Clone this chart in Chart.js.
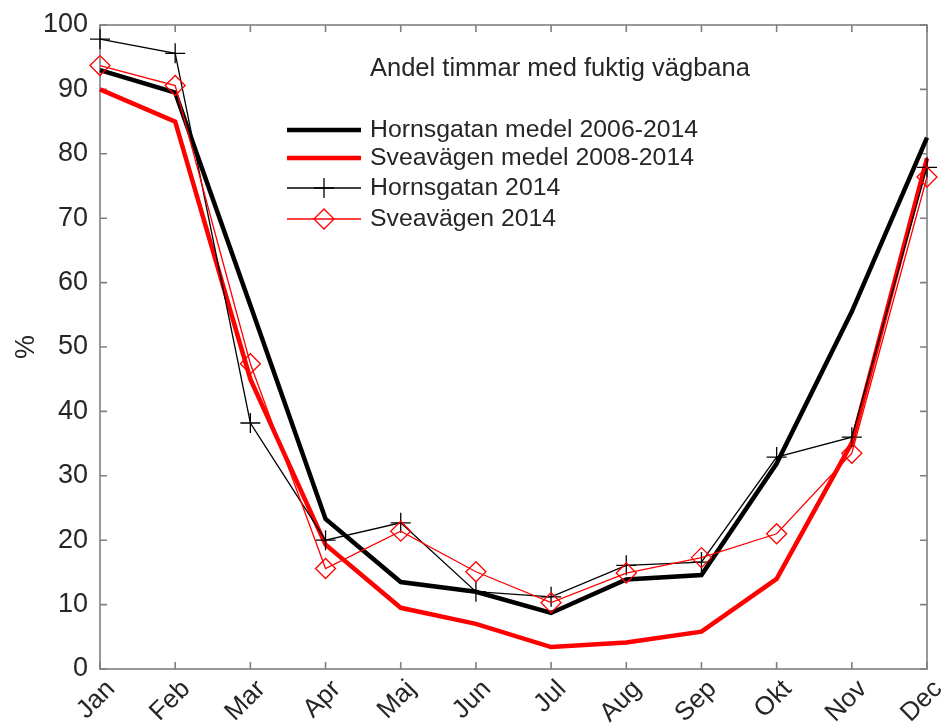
<!DOCTYPE html>
<html>
<head>
<meta charset="utf-8">
<script src="https://cdn.jsdelivr.net/npm/chart.js@4.4.1/dist/chart.umd.min.js"></script>
<style>
  body { margin: 0; background: #fff; }
  #wrap { width: 944px; height: 724px; }
</style>
</head>
<body>
<div id="wrap"><canvas id="fuktChart" width="944" height="724"></canvas></div>
<script>
// --- data ---
const months = ['Jan', 'Feb', 'Mar', 'Apr', 'Maj', 'Jun', 'Jul', 'Aug', 'Sep', 'Okt', 'Nov', 'Dec'];
const yTicks = [0, 10, 20, 30, 40, 50, 60, 70, 80, 90, 100];

const hornsMedel = [93, 89.5, 56.5, 23.3, 13.5, 12, 8.7, 13.9, 14.6, 31.9, 55.5, 82.5];
const sveaMedel = [90, 85, 45, 19.3, 9.5, 7, 3.4, 4.1, 5.8, 14, 35.1, 79.3];
const horns2014 = [97.8, 95.6, 38.2, 20, 22.7, 12, 11.2, 16.1, 16.6, 32.9, 36, 77.9];
const svea2014 = [93.7, 90.6, 47.4, 15.6, 21.4, 15.1, 10.3, 14.9, 17.3, 21, 33.5, 76.4];

const seriesNames = [
    'Hornsgatan medel 2006-2014',
    'Sveavägen medel 2008-2014',
    'Hornsgatan 2014',
    'Sveavägen 2014'
];
const noteText = 'Andel timmar med fuktig vägbana';

const FONT = '"Liberation Sans", Arial, Helvetica, sans-serif';
const TEXT_COLOR = '#262626';
const AXIS_COLOR = '#808080';

// ram, inåtvända tickar, lutade månadsetiketter, legend och rubrik
const framePlugin = {
    id: 'frame',
    beforeDatasetsDraw(chart) {
        const { ctx, chartArea: a, scales } = chart;
        ctx.save();
        ctx.strokeStyle = AXIS_COLOR;
        ctx.lineWidth = 1.6;
        ctx.strokeRect(a.left, a.top, a.right - a.left, a.bottom - a.top);
        const tl = 7;
        ctx.beginPath();
        scales.y.ticks.forEach(t => {
            const y = scales.y.getPixelForValue(t.value);
            ctx.moveTo(a.left, y); ctx.lineTo(a.left + tl, y);
            ctx.moveTo(a.right, y); ctx.lineTo(a.right - tl, y);
        });
        months.forEach((m, i) => {
            const x = scales.x.getPixelForValue(i);
            ctx.moveTo(x, a.bottom); ctx.lineTo(x, a.bottom - tl);
            ctx.moveTo(x, a.top); ctx.lineTo(x, a.top + tl);
        });
        ctx.stroke();

        // månader, 45 grader
        ctx.fillStyle = TEXT_COLOR;
        ctx.font = '26px ' + FONT;
        ctx.textAlign = 'right';
        ctx.textBaseline = 'middle';
        months.forEach((m, i) => {
            const x = scales.x.getPixelForValue(i);
            ctx.save();
            ctx.translate(x + 11, a.bottom + 16);
            ctx.rotate(-Math.PI / 4);
            ctx.fillText(m, 0, 0);
            ctx.restore();
        });
        ctx.restore();
    },
    afterDraw(chart) {
        const { ctx } = chart;
        ctx.save();
        ctx.fillStyle = TEXT_COLOR;
        ctx.textBaseline = 'middle';
        ctx.font = '25.5px ' + FONT;
        ctx.fillText(noteText, 370, 69);

        ctx.font = '24.8px ' + FONT;
        const rowY = [130, 158, 188, 219];
        const x0 = 287, x1 = 361;
        const cx = (x0 + x1) / 2;
        chart.data.datasets.forEach((ds, i) => {
            const y = rowY[i];
            ctx.strokeStyle = ds.borderColor;
            ctx.lineWidth = ds.borderWidth;
            ctx.beginPath();
            ctx.moveTo(x0, y); ctx.lineTo(x1, y);
            ctx.stroke();
            if (ds.pointRadius > 0) {
                const r = ds.pointRadius;
                ctx.lineWidth = ds.pointBorderWidth;
                ctx.beginPath();
                if (ds.pointStyle === 'cross') {
                    ctx.moveTo(cx - r, y); ctx.lineTo(cx + r, y);
                    ctx.moveTo(cx, y - r); ctx.lineTo(cx, y + r);
                } else {
                    ctx.moveTo(cx - r, y); ctx.lineTo(cx, y - r);
                    ctx.lineTo(cx + r, y); ctx.lineTo(cx, y + r);
                    ctx.closePath();
                }
                ctx.stroke();
            }
            ctx.fillText(seriesNames[i], 370, y);
        });
        ctx.restore();
    }
};

function lineSet(label, data, color, width, style, order) {
    return {
        label: label,
        data: data,
        borderColor: color,
        backgroundColor: 'rgba(0,0,0,0)',
        borderWidth: width,
        pointStyle: style || 'circle',
        pointRadius: style ? 10 : 0,
        pointHoverRadius: style ? 10 : 0,
        pointBorderColor: color,
        pointBackgroundColor: 'rgba(0,0,0,0)',
        pointBorderWidth: 1.3,
        tension: 0,
        clip: false,
        order: order
    };
}

const ctx = document.getElementById('fuktChart').getContext('2d');
const fuktChart = new Chart(ctx, {
    type: 'line',
    data: {
        labels: months,
        datasets: [
            lineSet(seriesNames[0], hornsMedel, '#000000', 4.5, null, 4),
            lineSet(seriesNames[1], sveaMedel, '#ff0000', 4.5, null, 3),
            lineSet(seriesNames[2], horns2014, '#000000', 1.3, 'cross', 2),
            lineSet(seriesNames[3], svea2014, '#ff0000', 1.3, 'rectRot', 1)
        ]
    },
    options: {
        responsive: false,
        devicePixelRatio: 1,
        animation: false,
        layout: { padding: { top: 25, right: 17, left: 0, bottom: 0 } },
        plugins: {
            legend: { display: false },
            tooltip: { enabled: false }
        },
        scales: {
            x: {
                type: 'category',
                offset: false,
                grid: { display: false, drawTicks: false },
                border: { display: false },
                ticks: { display: false },
                afterFit(scale) {
                    scale.height = 55;
                    scale.paddingLeft = 0;
                    scale.paddingRight = 0;
                }
            },
            y: {
                min: 0,
                max: 100,
                grid: { display: false, drawTicks: false },
                border: { display: false },
                afterBuildTicks(scale) {
                    scale.ticks = yTicks.map(v => ({ value: v }));
                },
                ticks: {
                    color: TEXT_COLOR,
                    font: { family: FONT, size: 27 },
                    padding: 12
                },
                title: {
                    display: true,
                    text: '%',
                    color: TEXT_COLOR,
                    font: { family: FONT, size: 27 },
                    padding: { top: 10, bottom: 0 }
                },
                afterFit(scale) {
                    scale.width = 100;
                    scale.paddingTop = 0;
                    scale.paddingBottom = 0;
                }
            }
        }
    },
    plugins: [framePlugin]
});
</script>
</body>
</html>
